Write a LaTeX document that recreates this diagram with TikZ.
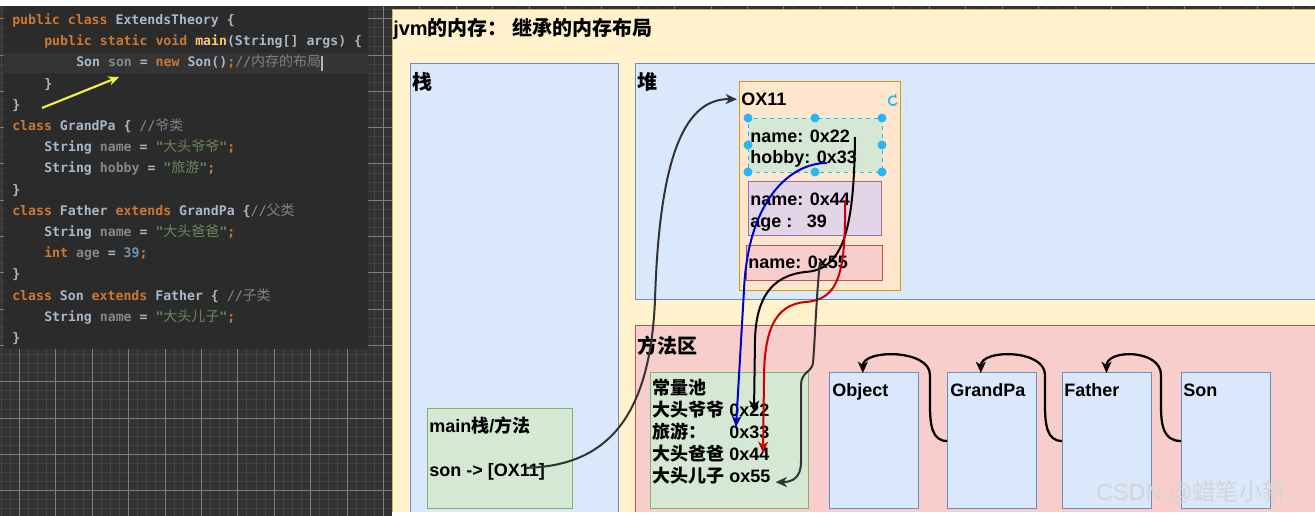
\documentclass[tikz,border=0pt]{standalone}
\usepackage{fontspec}
\setmainfont{Liberation Sans}
\setmonofont{DejaVu Sans Mono}
\newfontfamily\cjk{Noto Sans CJK SC}
\usepackage{xcolor}
\usetikzlibrary{arrows.meta,calc}

\definecolor{gridbg}{RGB}{50,50,50}
\definecolor{gridminor}{RGB}{68,68,68}
\definecolor{gridmajor}{RGB}{125,125,125}
\definecolor{codebg}{RGB}{43,43,43}
\definecolor{curline}{RGB}{52,52,52}
\definecolor{kwc}{RGB}{204,120,50}
\definecolor{idc}{RGB}{169,183,198}
\definecolor{fldc}{RGB}{135,135,135}
\definecolor{strc}{RGB}{106,135,89}
\definecolor{numc}{RGB}{104,151,187}
\definecolor{cmtc}{RGB}{128,128,128}
\definecolor{fnc}{RGB}{255,198,109}
\definecolor{hintc}{RGB}{245,240,70}
\definecolor{yelfill}{RGB}{255,242,204}
\definecolor{yeldraw}{RGB}{214,182,86}
\definecolor{bluefill}{RGB}{218,232,252}
\definecolor{bluedraw}{RGB}{108,142,191}
\definecolor{redfill}{RGB}{248,206,204}
\definecolor{reddraw}{RGB}{184,84,80}
\definecolor{grnfill}{RGB}{213,232,212}
\definecolor{grndraw}{RGB}{130,179,102}
\definecolor{orgfill}{RGB}{255,230,204}
\definecolor{orgdraw}{RGB}{215,155,0}
\definecolor{purfill}{RGB}{225,213,231}
\definecolor{purdraw}{RGB}{150,115,166}
\definecolor{selc}{RGB}{41,182,242}
\definecolor{arrgray}{RGB}{51,51,51}
\definecolor{arrblue}{RGB}{0,0,204}
\definecolor{arrred}{RGB}{204,0,0}
\definecolor{wmc}{RGB}{214,212,212}

\newcommand{\zh}[1]{{\cjk #1}}
\newcommand{\czh}[1]{{\cjk\mdseries\fontsize{10.5pt}{12pt}\selectfont #1}}
\newcommand{\ckw}[1]{\textcolor{kwc}{#1}}
\newcommand{\cfld}[1]{\textcolor{fldc}{#1}}
\newcommand{\cstr}[1]{\textcolor{strc}{#1}}
\newcommand{\cnum}[1]{\textcolor{numc}{#1}}
\newcommand{\ccmt}[1]{\textcolor{cmtc}{#1}}
\newcommand{\cfn}[1]{\textcolor{fnc}{#1}}

\begin{document}
\begin{tikzpicture}[x=0.75pt, y=-0.75pt,
        box/.style={anchor=north west, inner sep=0pt, outer sep=0pt, line width=0.75pt},
        sz/.style 2 args={minimum width=#1*0.75pt, minimum height=#2*0.75pt},
        hdr/.style={anchor=base west, inner sep=0pt, font=\bfseries\fontsize{15pt}{18pt}\selectfont},
        txt/.style={anchor=base west, inner sep=0pt, font=\bfseries\fontsize{13.5pt}{16pt}\selectfont},
        codeline/.style={anchor=base west, inner sep=0pt, text=idc, font=\ttfamily\bfseries\fontsize{9.9pt}{12pt}\selectfont},
        arrowtip/.style={-{Stealth[length=8.5pt, width=7.5pt, inset=2.5pt]}},
        ref/.style={arrowtip, line width=1.5pt},
        inh/.style={arrowtip, line width=1.7pt, black}]

    \useasboundingbox (0,0) rectangle (1315,516);
    \fill[white] (0,0) rectangle (1315,516);

    % editor background
    \begin{scope}
        \clip (0,6) rectangle (1315,516);
        \fill[gridbg] (0,6) rectangle (1315,516);
        \foreach \gx in {0,...,144}
            \draw[gridminor, line width=0.6pt] ({1.1+9.1*\gx},6) -- ({1.1+9.1*\gx},516);
        \foreach \gy in {0,...,56}
            \draw[gridminor, line width=0.6pt] (0,{0.55+9.075*\gy}) -- (1315,{0.55+9.075*\gy});
        \foreach \gx in {0,...,35}
            \draw[gridmajor, line width=0.6pt] ({19.3+36.4*\gx},6) -- ({19.3+36.4*\gx},516);
        \foreach \gy in {0,...,13}
            \draw[gridmajor, line width=0.6pt] (0,{18.7+36.3*\gy}) -- (1315,{18.7+36.3*\gy});
    \end{scope}
    \fill[codebg] (4,6) rectangle (368,349);
    \fill[curline] (4,53) rectangle (368,73);

    \node[codeline] (c1)  at (12,24.5)  {\ckw{public class} ExtendsTheory \{};
    \node[codeline] (c2)  at (44,45.7)  {\ckw{public static void} \cfn{main}(String[] args) \{};
    \node[codeline] (c3)  at (76,66.9)  {Son \cfld{son} = \ckw{new} Son()\ckw{;}\ccmt{//\czh{内存的布局}}};
    \node[codeline] (c4)  at (44,88.1)  {\}};
    \node[codeline] (c5)  at (12,109.3) {\}};
    \node[codeline] (c6)  at (12,130.5) {\ckw{class} GrandPa \{ \ccmt{//\czh{爷类}}};
    \node[codeline] (c7)  at (44,151.7) {String \cfld{name} = \cstr{"\czh{大头爷爷}"}\ckw{;}};
    \node[codeline] (c8)  at (44,172.9) {String \cfld{hobby} = \cstr{"\czh{旅游}"}\ckw{;}};
    \node[codeline] (c9)  at (12,194.1) {\}};
    \node[codeline] (c10) at (12,215.3) {\ckw{class} Father \ckw{extends} GrandPa \{\ccmt{//\czh{父类}}};
    \node[codeline] (c11) at (44,236.5) {String \cfld{name} = \cstr{"\czh{大头爸爸}"}\ckw{;}};
    \node[codeline] (c12) at (44,257.7) {\ckw{int} \cfld{age} = \cnum{39}\ckw{;}};
    \node[codeline] (c13) at (12,278.9) {\}};
    \node[codeline] (c14) at (12,300.1) {\ckw{class} Son \ckw{extends} Father \{ \ccmt{//\czh{子类}}};
    \node[codeline] (c15) at (44,321.3) {String \cfld{name} = \cstr{"\czh{大头儿子}"}\ckw{;}};
    \node[codeline] (c16) at (12,342.5) {\}};
    \draw[idc, line width=0.8pt] (322,56) -- (322,71);

    \coordinate (hinttail) at (42,108);
    \coordinate (hinthead) at (119,77);
    \draw[hintc, line width=1.6pt, -{Stealth[length=8pt, width=7pt]}] (hinttail) -- (hinthead);

    % memory layout
    \node[box, sz={940}{520}, fill=yelfill, draw=yeldraw] (jvm) at (392,10) {};
    \node[hdr] (title) at (393,35.5) {jvm\zh{的内存： 继承的内存布局}};

    \begin{scope}[every node/.append style={box, fill=bluefill, draw=bluedraw}]
        \node[sz={208}{460}] (stack) at (410,64) {};
        \node[sz={700}{236}] (heap) at (635,64) {};
    \end{scope}
    \node[box, sz={700}{200}, fill=redfill, draw=reddraw] (method) at (635,326) {};

    \node[box, sz={161}{209}, fill=orgfill, draw=orgdraw] (obj) at (739,82) {};
    \node[box, sz={134}{54}, fill=grnfill, draw=selc, dashed, line width=0.6pt] (field1) at (748,118) {};
    \node[box, sz={133}{54}, fill=purfill, draw=purdraw] (field2) at (748,182) {};
    \node[box, sz={136}{35}, fill=redfill, draw=reddraw] (field3) at (746,246) {};

    \node[box, sz={145}{100}, fill=grnfill, draw=grndraw] (frame) at (427,409) {};
    \node[box, sz={158}{136}, fill=grnfill, draw=grndraw] (pool) at (650,373) {};

    \begin{scope}[every node/.append style={box, sz={89}{136}, fill=bluefill, draw=bluedraw}]
        \node (Object)  at (829,373)  {};
        \node (GrandPa) at (947,373)  {};
        \node (Father)  at (1062,373) {};
        \node (Son)     at (1181,373) {};
    \end{scope}

    \node[hdr] (stacklbl)  at (412,89.5)  {\zh{栈}};
    \node[hdr] (heaplbl)   at (637,89.5)  {\zh{堆}};
    \node[hdr] (methodlbl) at (637,353.5) {\zh{方法区}};

    \node[txt] (ox)      at (741,105.5) {OX11};
    \node[txt] (name22)  at (750,142.5) {name: 0x22};
    \node[txt] (hobby33) at (750,163.5) {hobby: 0x33};
    \node[txt] (name44)  at (750,205.5) {name: 0x44};
    \node[txt] (age39)   at (750,227.5) {age :\hspace{11pt}39};
    \node[txt] (name55)  at (748,268.5) {name: 0x55};

    \node[txt] (mainlbl) at (429,433)   {main\zh{栈}/\zh{方法}};
    \node[txt] (sonref)  at (429,476.5) {son -> [OX11]};

    \node[txt] (pool1) at (652,395) {\zh{常量池}};
    \node[txt] (pool2) at (652,417) {\zh{大头爷爷} 0x22};
    \node[txt] (pool3) at (652,439) {\makebox[4em][l]{\zh{旅游：}} 0x33};
    \node[txt] (pool4) at (652,461) {\zh{大头爸爸} 0x44};
    \node[txt] (pool5) at (652,483) {\zh{大头儿子} ox55};

    \node[txt] (objlbl)     at (832,397)  {Object};
    \node[txt] (grandpalbl) at (950,397)  {GrandPa};
    \node[txt] (fatherlbl)  at (1064,397) {Father};
    \node[txt] (sonlbl)     at (1183,397) {Son};

    % selection handles
    \foreach \hx/\hy in {748/118, 815/118, 882/118, 748/145, 882/145, 748/172, 815/172, 882/172}
        \fill[selc] (\hx,\hy) circle[radius=4.5];
    \draw[selc, line width=1.2pt, -{Stealth[length=3pt, width=4pt]}] (897,103) arc[start angle=30, end angle=320, radius=4.5];

    % references
    \coordinate (p22) at (855,137);
    \coordinate (p33) at (827,163);
    \coordinate (p44) at (845,200);
    \coordinate (p55) at (820,262);
    \coordinate (q22) at (754,412);
    \coordinate (q33) at (736,427);
    \coordinate (q44) at (763,453);

    \draw[ref, arrgray] ([shift={(-19,-4)}]sonref.east) .. controls (605,466) and (650,420) .. (655,300)
        .. controls (659,170) and (680,98) .. ([xshift=-3pt]ox.west);
    \draw[ref, black] (p22) .. controls (854,225) and (845,270) .. (805,272)
        .. controls (770,276) and (756,300) .. (755,340) -- (q22);
    \draw[ref, arrblue] (p33) .. controls (790,163) and (748,200) .. (744,290) -- (q33);
    \draw[ref, arrred] (p44) .. controls (846,275) and (838,300) .. (805,302)
        .. controls (775,305) and (764,330) .. (764,380) -- (q44);
    \draw[ref, arrgray] (p55) .. controls (816,300) and (815,340) .. (813,363)
        .. controls (812,372) and (801,372) .. (801,385) -- (801,462)
        .. controls (801,478) and (792,482) .. ([shift={(5,6)}]pool5.east);

    % inheritance
    \draw[inh] (Son.west) .. controls +(-18,0) and +(0,20) .. (1161,405) -- (1161,375)
        .. controls +(0,-26) and +(0,-24) .. (Father.north);
    \draw[inh] (Father.west) .. controls +(-15,0) and +(0,20) .. (1045,405) -- (1045,375)
        .. controls +(0,-26) and +(0,-24) .. ([xshift=-8pt]GrandPa.north);
    \draw[inh] (GrandPa.west) .. controls +(-15,0) and +(0,20) .. (930,405) -- (930,375)
        .. controls +(0,-26) and +(0,-24) .. ([xshift=-8pt]Object.north);

    \fill[white] (392,512) rectangle (1315,516);
    \node[anchor=base west, inner sep=0pt, text=wmc, font=\fontsize{17.5pt}{19pt}\selectfont] (wmark) at (1096,501) {CSDN @\zh{蜡笔小新}..};
\end{tikzpicture}
\end{document}
